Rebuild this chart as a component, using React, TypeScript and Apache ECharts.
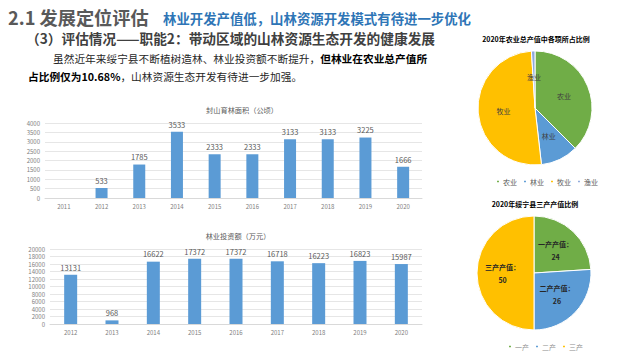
import React, { useEffect, useRef } from "react";
import * as echarts from "echarts";

const years1 = ["2011", "2012", "2013", "2014", "2015", "2016", "2017", "2018", "2019", "2020"];
const forestArea = [null, 533, 1785, 3533, 2333, 2333, 3133, 3133, 3225, 1666];

const years2 = ["2012", "2013", "2014", "2015", "2016", "2017", "2018", "2019", "2020"];
const investment = [13131, 968, 16622, 17372, 17372, 16718, 16223, 16823, 15987];

const agriNames = ["农业", "林业", "牧业", "渔业"];
const agriShares = [37.5, 10.68, 50.8, 1.0];
const agriColors = ["#70AD47", "#5B9BD5", "#FFC000", "#8EA9DB"];

const industryNames = ["一产", "二产", "三产"];
const industryLabels = ["一产产值", "二产产值", "三产产值"];
const industryValues = [24, 26, 50];
const industryColors = ["#70AD47", "#5B9BD5", "#FFC000"];

const FONT = '"Noto Sans CJK SC", "Noto Sans", sans-serif';

export default function App() {
  const ref = useRef<HTMLDivElement>(null);

  useEffect(() => {
    if (!ref.current) return;
    const chart = echarts.init(ref.current, null, { renderer: "svg" });

    const axisLabel = { fontSize: 6, color: "#808080", fontFamily: FONT, formatter: (v: any) => String(v) };
    const barLabel = { show: true, position: "top", fontSize: 7.5, color: "#595959", fontFamily: FONT, distance: 4 };

    chart.setOption({
      animation: false,
      backgroundColor: "#ffffff",
      textStyle: { fontFamily: FONT },
      graphic: [
        {
          type: "text", x: 8, y: 17,
          style: { text: "2.1 发展定位评估", fontSize: 18.2, fontWeight: "bold", fill: "#595959", fontFamily: FONT, textVerticalAlign: "middle" },
        },
        {
          type: "text", x: 163, y: 18,
          style: { text: "林业开发产值低，山林资源开发模式有待进一步优化", fontSize: 13.4, fontWeight: "bold", fill: "#2E75B6", fontFamily: FONT, textVerticalAlign: "middle" },
        },
        {
          type: "text", x: 26, y: 38,
          style: { text: "（3）评估情况——职能2：带动区域的山林资源生态开发的健康发展", fontSize: 13.7, fontWeight: "bold", fill: "#404040", fontFamily: FONT, textVerticalAlign: "middle" },
        },
        {
          type: "text", x: 53, y: 58,
          style: {
            text: "{n|虽然近年来绥宁县不断植树造林、林业投资额不断提升，}{b|但林业在农业总产值所}",
            fontFamily: FONT, textVerticalAlign: "middle",
            rich: {
              n: { fontSize: 10.7, fill: "#262626", fontFamily: FONT },
              b: { fontSize: 10.7, fill: "#000000", fontWeight: "bold", fontFamily: FONT },
            },
          },
        },
        {
          type: "text", x: 28, y: 76,
          style: {
            text: "{b|占比例仅为10.68%}{n|，山林资源生态开发有待进一步加强。}",
            fontFamily: FONT, textVerticalAlign: "middle",
            rich: {
              n: { fontSize: 10.7, fill: "#262626", fontFamily: FONT },
              b: { fontSize: 10.7, fill: "#000000", fontWeight: "bold", fontFamily: FONT },
            },
          },
        },
        {
          type: "text", x: 242, y: 110,
          style: { text: "封山育林面积（公顷）", fontSize: 7.2, fill: "#595959", fontFamily: FONT, textAlign: "center", textVerticalAlign: "middle" },
        },
        {
          type: "text", x: 238, y: 236,
          style: { text: "林业投资额（万元）", fontSize: 7.2, fill: "#595959", fontFamily: FONT, textAlign: "center", textVerticalAlign: "middle" },
        },
        {
          type: "text", x: 536, y: 39,
          style: { text: "2020年农业总产值中各项所占比例", fontSize: 7, fontWeight: "bold", fill: "#000000", fontFamily: FONT, textAlign: "center", textVerticalAlign: "middle" },
        },
        {
          type: "text", x: 535, y: 204,
          style: { text: "2020年绥宁县三产产值比例", fontSize: 7, fontWeight: "bold", fill: "#000000", fontFamily: FONT, textAlign: "center", textVerticalAlign: "middle" },
        },
      ],
      legend: [
        {
          data: agriNames, left: 490, top: 173, itemWidth: 4, itemHeight: 4, itemGap: 5, icon: "circle",
          textStyle: { fontSize: 7, color: "#595959", fontFamily: FONT, padding: [0, 0, 0, -2] },
        },
        {
          data: industryNames, left: 502, top: 338, itemWidth: 4, itemHeight: 4, itemGap: 5, icon: "circle",
          textStyle: { fontSize: 7, color: "#8c8c8c", fontFamily: FONT, padding: [0, 0, 0, -2] },
        },
      ],
      grid: [
        { left: 45, right: 218, top: 123, bottom: 162 },
        { left: 50, right: 218, top: 249, bottom: 36 },
      ],
      xAxis: [
        {
          type: "category", gridIndex: 0, data: years1,
          axisLine: { lineStyle: { color: "#D9D9D9" } }, axisTick: { show: false },
          axisLabel: { ...axisLabel, margin: 5 },
        },
        {
          type: "category", gridIndex: 1, data: years2,
          axisLine: { lineStyle: { color: "#D9D9D9" } }, axisTick: { show: false },
          axisLabel: { ...axisLabel, margin: 5 },
        },
      ],
      yAxis: [
        {
          type: "value", gridIndex: 0, min: 0, max: 4000, interval: 500,
          axisLine: { show: false }, axisTick: { show: false },
          axisLabel: { ...axisLabel, margin: 5 },
          splitLine: { lineStyle: { color: "#E6E6E6" } },
        },
        {
          type: "value", gridIndex: 1, min: 0, max: 20000, interval: 2000,
          axisLine: { show: false }, axisTick: { show: false },
          axisLabel: { ...axisLabel, margin: 5 },
          splitLine: { lineStyle: { color: "#E6E6E6" } },
        },
      ],
      series: [
        {
          type: "bar", xAxisIndex: 0, yAxisIndex: 0, data: forestArea, barWidth: 12,
          itemStyle: { color: "#5B9BD5" }, label: barLabel,
        },
        {
          type: "bar", xAxisIndex: 1, yAxisIndex: 1, data: investment, barWidth: 13,
          itemStyle: { color: "#5B9BD5" }, label: barLabel,
        },
        {
          type: "pie", center: [535, 108], radius: 57, startAngle: 90, clockwise: true,
          data: agriNames.map((n, i) => ({ name: n, value: agriShares[i], itemStyle: { color: agriColors[i] } })),
          itemStyle: { borderColor: "#ffffff", borderWidth: 1 },
          label: { show: true, position: "inside", formatter: "{b}", fontSize: 7, color: "#404040", fontFamily: FONT },
          labelLine: { show: false },
          emphasis: { disabled: true },
        },
        {
          type: "pie", center: [534, 273], radius: 57, startAngle: 90, clockwise: true,
          data: industryNames.map((n, i) => ({ name: n, value: industryValues[i], itemStyle: { color: industryColors[i] } })),
          itemStyle: { borderColor: "#ffffff", borderWidth: 1 },
          label: {
            show: true, position: "inside", fontSize: 7, fontWeight: "bold", color: "#262626", fontFamily: FONT, lineHeight: 13,
            formatter: (p: any) => industryLabels[p.dataIndex] + "：\n" + p.value,
          },
          labelLine: { show: false },
          emphasis: { disabled: true },
        },
      ],
    });

    return () => chart.dispose();
  }, []);

  return <div ref={ref} style={{ width: 640, height: 360, position: "absolute", left: 0, top: 0 }} />;
}
